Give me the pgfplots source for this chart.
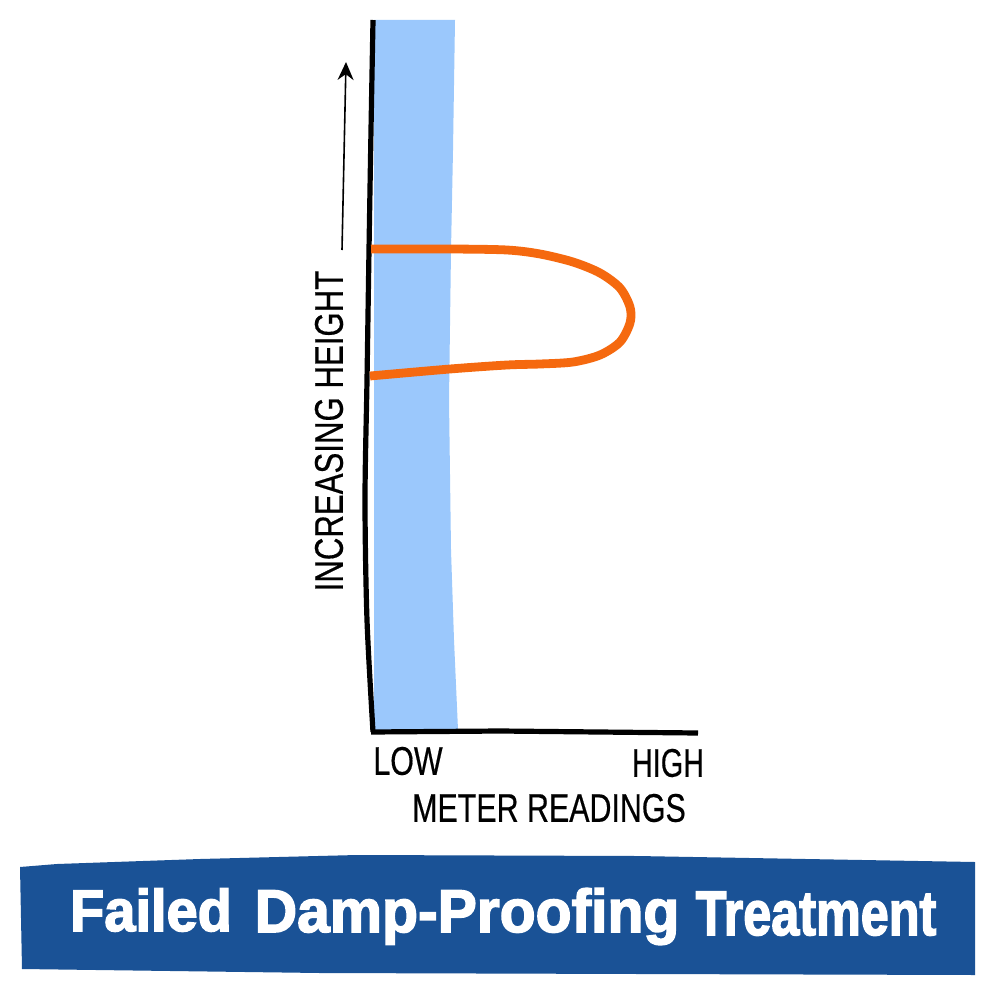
\documentclass[border=0pt]{standalone}
\usepackage{pgfplots}
\pgfplotsset{compat=1.18}
\usetikzlibrary{arrows.meta}
\usepackage{fontspec}
\setmainfont{Liberation Sans}
\newfontfamily\labf[FakeBold=0.5]{Liberation Sans}
\newfontfamily\banf[FakeBold=2.6]{Liberation Sans Bold}
\definecolor{band}{HTML}{9BC8FC}
\definecolor{curve}{HTML}{F5690F}
\definecolor{banner}{HTML}{1A5296}
\begin{document}
\begin{tikzpicture}
\begin{axis}[
  at={(0,0)},anchor=south west,
  scale only axis,
  width=500pt,height=500pt,
  xmin=0,xmax=1000,ymin=0,ymax=1000,y dir=reverse,
  axis lines=none,clip=false]
\addplot[fill=white,draw=none,forget plot] coordinates {(0,0) (1000,0) (1000,1000) (0,1000)} -- cycle;
\addplot[fill=band,draw=none] coordinates {(374,20) (455,20) (453,150) (451,250) (449,400) (451,550) (454,640) (458,730) (374,730)} -- cycle;
\addplot[fill=banner,draw=none] coordinates {(20,867) (57,864) (200,859) (357,855) (637,856) (975,862) (975,975) (640,974) (320,973) (22,969)} -- cycle;
\addplot[black,line width=2.6pt,smooth] coordinates {(373,20) (371,130) (369,250) (367,380) (365,500) (367,620) (373,732)};
\addplot[black,line width=2.6pt] coordinates {(371,732) (500,731) (698,733)};
\addplot[black,line width=0.8pt,-{Stealth[length=9pt,width=8pt]}] coordinates {(342,250) (346,62)};
\addplot[curve,line width=4.4pt,smooth,tension=0.5] coordinates {(371,249) (450,249) (507,250) (540,254) (573,262) (600,273) (620,288) (630,307) (630,323) (620,342) (600,355) (573,362) (540,364) (507,365) (450,369) (370,376)};
\node[rotate=90,font=\labf\fontsize{20}{20}\selectfont,xscale=0.78] at (axis cs:329,431) {INCREASING HEIGHT};
\node[font=\labf\fontsize{20}{20}\selectfont,xscale=0.76] at (axis cs:408,761) {LOW};
\node[font=\labf\fontsize{20}{20}\selectfont,xscale=0.72] at (axis cs:668,763) {HIGH};
\node[font=\labf\fontsize{20}{20}\selectfont,xscale=0.76] at (axis cs:549,808) {METER READINGS};
\node[font=\banf\fontsize{28}{28}\selectfont,text=white,anchor=base,yscale=1.05] at (axis cs:151,931) {Failed};
\node[font=\banf\fontsize{28}{28}\selectfont,text=white,anchor=base,xscale=1.05,yscale=1.08] at (axis cs:467,932) {Damp-Proofing};
\node[font=\banf\fontsize{28.6}{28.6}\selectfont,text=white,anchor=base,xscale=0.88,yscale=1.1] at (axis cs:816,935) {Treatment};
\end{axis}
\end{tikzpicture}
\end{document}
